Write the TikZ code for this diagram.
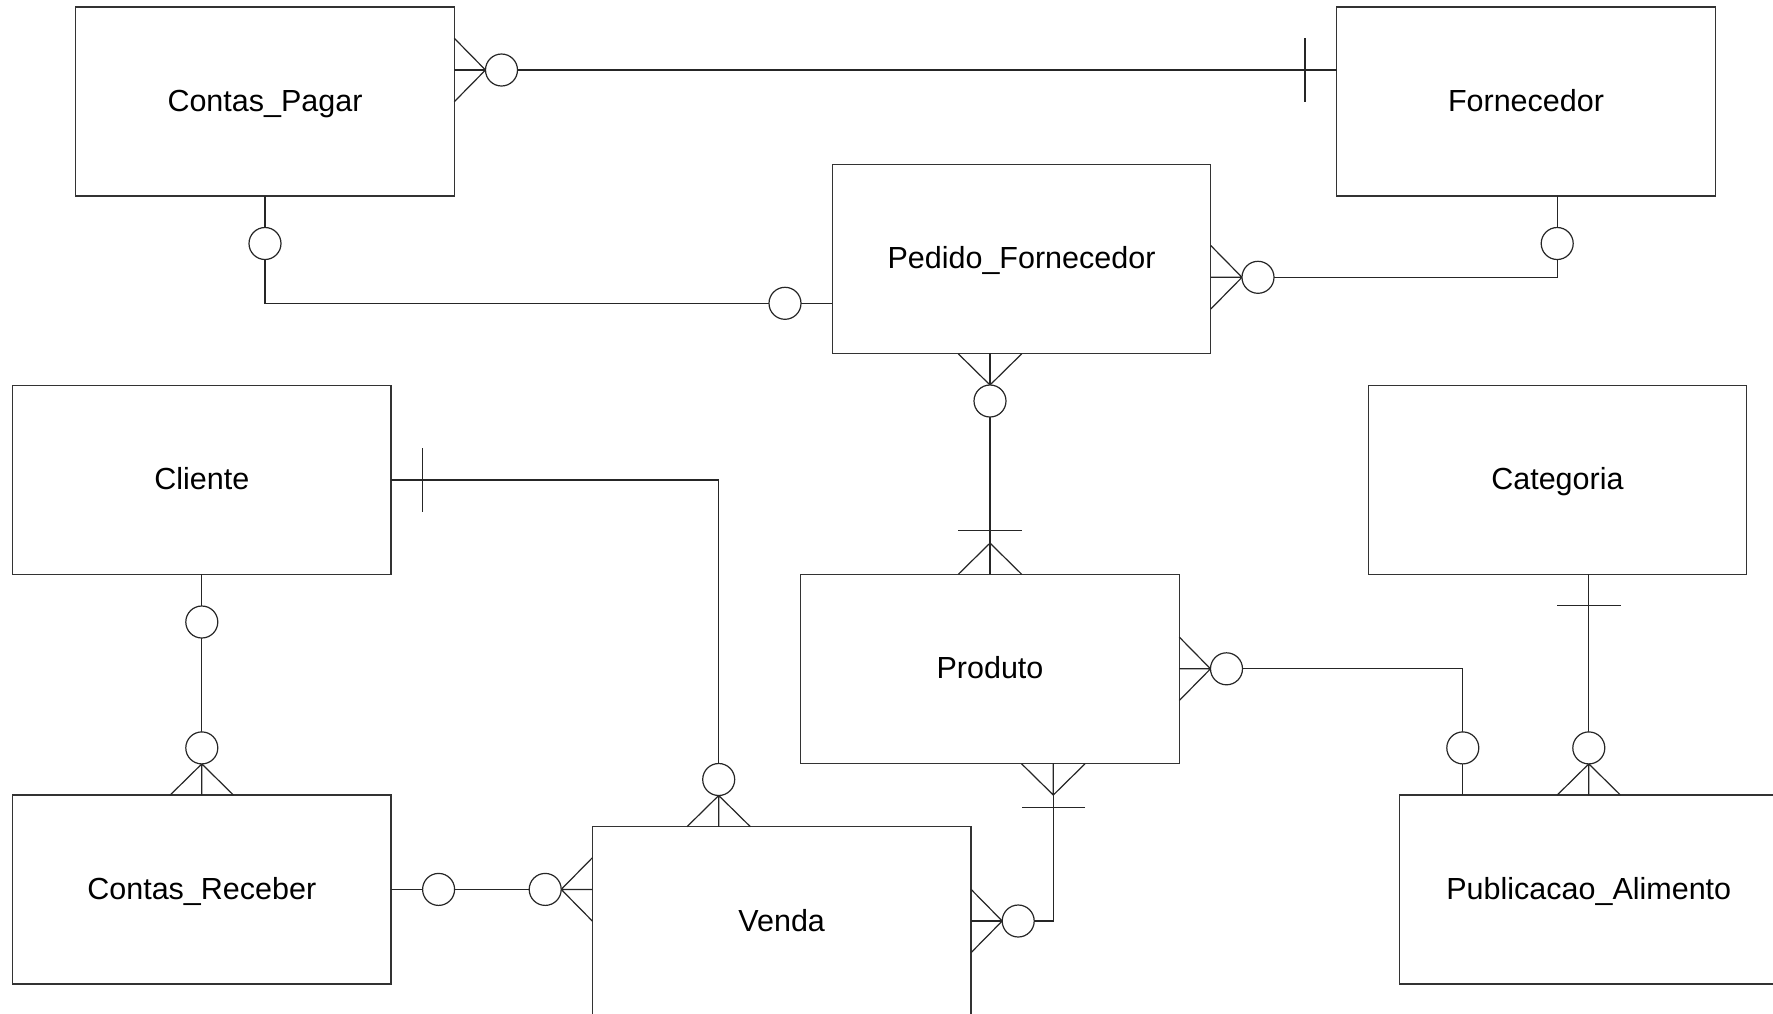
\documentclass[tikz,border=0pt]{standalone}
\usepackage{fontspec}
\setmainfont{Liberation Sans}
\begin{document}
\begin{tikzpicture}[x=1pt,y=-1pt,
  ent/.style={draw=black!80, line width=1.2pt, minimum width=378.5pt, minimum height=189pt,
    inner sep=0pt, outer sep=0pt, fill=white, text height=22pt, text depth=2pt,
    font=\fontsize{30.5}{36}\selectfont},
  conn/.style={draw=black!85, line width=1.2pt},
  crowfoot/.pic={\draw[conn] (31.2pt,31.7pt) -- (0,0) -- (31.2pt,-31.7pt) (0,0) -- (31.2pt,0);},
  onebar/.pic={\draw[conn] (0,-31.7pt) -- (0,31.7pt);},
  optc/.style={conn, fill=white}
]
\useasboundingbox (0,0) rectangle (1773,1013);
\fill[white] (0,0) rectangle (1773,1013);
\clip (0,0) rectangle (1773,1013);

% entities
\node[ent] (cp) at (265,101.4)   {Contas\_Pagar};
\node[ent] (fo) at (1526,101.4)  {Fornecedor};
\node[ent] (pf) at (1021.5,258.8){Pedido\_Fornecedor};
\node[ent] (cl) at (201.8,479.9) {Cliente};
\node[ent] (ca) at (1557.4,479.9){Categoria};
\node[ent] (pr) at (990,668.8)   {Produto};
\node[ent] (cr) at (201.8,889.4) {Contas\_Receber};
\node[ent] (ve) at (781.7,921)   {Venda};
\node[ent] (pa) at (1588.8,889.4){Publicacao\_Alimento};

% 1 Contas_Pagar -- Fornecedor
\draw[conn] ([yshift=31.4pt]cp.east) -- ([yshift=31.4pt]fo.west);
\pic[rotate=180] at (485.5,70) {crowfoot};
\draw[optc] (501.5,70) circle[radius=16pt];
\pic at (1305,70) {onebar};

% 2 Contas_Pagar -- Pedido_Fornecedor
\draw[conn] (cp.south) |- ([yshift=-44.5pt]pf.west);
\draw[optc] (265,243.5) circle[radius=16pt];
\draw[optc] (785,303.3) circle[radius=16pt];

% 3 Fornecedor -- Pedido_Fornecedor
\draw[conn] ([xshift=31.2pt]fo.south) |- ([yshift=-18.5pt]pf.east);
\draw[optc] (1557.2,243.5) circle[radius=16pt];
\pic[rotate=180] at (1242,277.3) {crowfoot};
\draw[optc] (1258,277.3) circle[radius=16pt];

% 4 Pedido_Fornecedor -- Produto
\draw[conn] (pf.south -| pr.north) -- (pr.north);
\pic[rotate=90] at (990,385) {crowfoot};
\draw[optc] (990,401) circle[radius=16pt];
\pic[rotate=90] at (990,530.3) {onebar};
\pic[rotate=-90] at (990,543.1) {crowfoot};

% 5 Cliente -- Venda
\draw[conn] (cl.east) -| ([xshift=-63pt]ve.north);
\pic at (422.5,479.9) {onebar};
\pic[rotate=-90] at (718.7,795.5) {crowfoot};
\draw[optc] (718.7,779.5) circle[radius=16pt];

% 6 Cliente -- Contas_Receber
\draw[conn] (cl.south) -- (cr.north);
\draw[optc] (201.8,622) circle[radius=16pt];
\pic[rotate=-90] at (201.8,763.9) {crowfoot};
\draw[optc] (201.8,747.9) circle[radius=16pt];

% 7 Contas_Receber -- Venda
\draw[conn] (cr.east) -- (cr.east -| ve.west);
\draw[optc] (438.6,889.4) circle[radius=16pt];
\pic at (561.2,889.4) {crowfoot};
\draw[optc] (545.2,889.4) circle[radius=16pt];

% 8 Produto -- Venda
\draw[conn] ([xshift=63.3pt]pr.south) |- (ve.east);
\pic[rotate=90] at (1053.3,795) {crowfoot};
\pic[rotate=90] at (1053.3,807.8) {onebar};
\pic[rotate=180] at (1002.2,921) {crowfoot};
\draw[optc] (1018.2,921) circle[radius=16pt];

% 9 Produto -- Publicacao_Alimento
\draw[conn] (pr.east) -| ([xshift=-126pt]pa.north);
\pic[rotate=180] at (1210.5,668.8) {crowfoot};
\draw[optc] (1226.5,668.8) circle[radius=16pt];
\draw[optc] (1462.8,747.9) circle[radius=16pt];

% 10 Categoria -- Publicacao_Alimento
\draw[conn] (pa.north |- ca.south) -- (pa.north);
\pic[rotate=90] at (1588.8,605.7) {onebar};
\pic[rotate=-90] at (1588.8,763.9) {crowfoot};
\draw[optc] (1588.8,747.9) circle[radius=16pt];
\end{tikzpicture}
\end{document}
